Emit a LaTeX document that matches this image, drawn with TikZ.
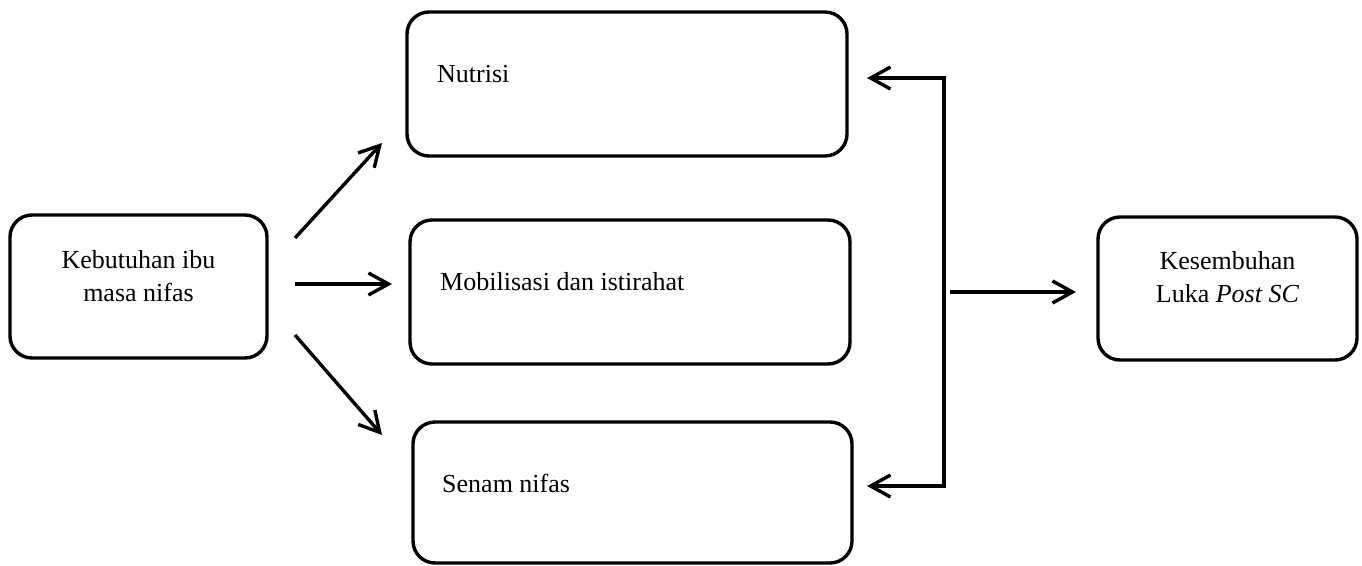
\documentclass[tikz,border=0pt]{standalone}
\usepackage{fontspec}
\setmainfont{Liberation Serif}
\usetikzlibrary{arrows.meta,calc}
\begin{document}
\begin{tikzpicture}[x=1pt,y=-1pt,
  box/.style={draw,line width=3.4pt,rounded corners=22pt,inner sep=0pt},
  txt/.style={inner sep=0pt,font=\fontsize{26}{33}\selectfont},
  arr/.style={line width=3.4pt,-{Straight Barb[length=20pt,width=22pt]}},
  link/.style={line width=3.4pt}]
\useasboundingbox (0,0) rectangle (1362,565);
% boxes
\node[box,minimum width=257pt,minimum height=143pt] (keb) at (138.5,286.5) {};
\node[box,minimum width=440pt,minimum height=144pt] (nut) at (627,84) {};
\node[box,minimum width=440pt,minimum height=144pt] (mob) at (630,292) {};
\node[box,minimum width=439pt,minimum height=141pt] (sen) at (632.5,492.5) {};
\node[box,minimum width=259pt,minimum height=143pt] (kes) at (1227.5,288.5) {};
% texts
\node[txt,align=center] (tkeb) at (138.5,276) {Kebutuhan ibu\\masa nifas};
\node[txt,anchor=base west] (tnut) at (437,82) {Nutrisi};
\node[txt,anchor=base west] (tmob) at (440,290) {Mobilisasi dan istirahat};
\node[txt,anchor=base west] (tsen) at (442,492) {Senam nifas};
\node[txt,align=center] (tkes) at (1227.5,277) {Kesembuhan\\Luka \textit{Post SC}};
% connector points
\coordinate (s1) at (295,238);
\coordinate (e1) at (382,143);
\coordinate (s2) at (295,284);
\coordinate (e2) at (392,284);
\coordinate (s3) at (295,335);
\coordinate (e3) at (382,435);
\coordinate (ft) at (944,78);
\coordinate (fb) at (944,486);
\coordinate (tn) at (867,78);
\coordinate (ts) at (867,486);
\coordinate (o1) at (950,292);
\coordinate (o2) at (1076,292);
% connectors
\draw[arr] (s1) -- (e1);
\draw[arr] (s2) -- (e2);
\draw[arr] (s3) -- (e3);
\draw[link,{Straight Barb[length=20pt,width=22pt]}-{Straight Barb[length=20pt,width=22pt]}] (tn) -- (ft) -- (fb) -- (ts);
\draw[arr] (o1) -- (o2);
\end{tikzpicture}
\end{document}
